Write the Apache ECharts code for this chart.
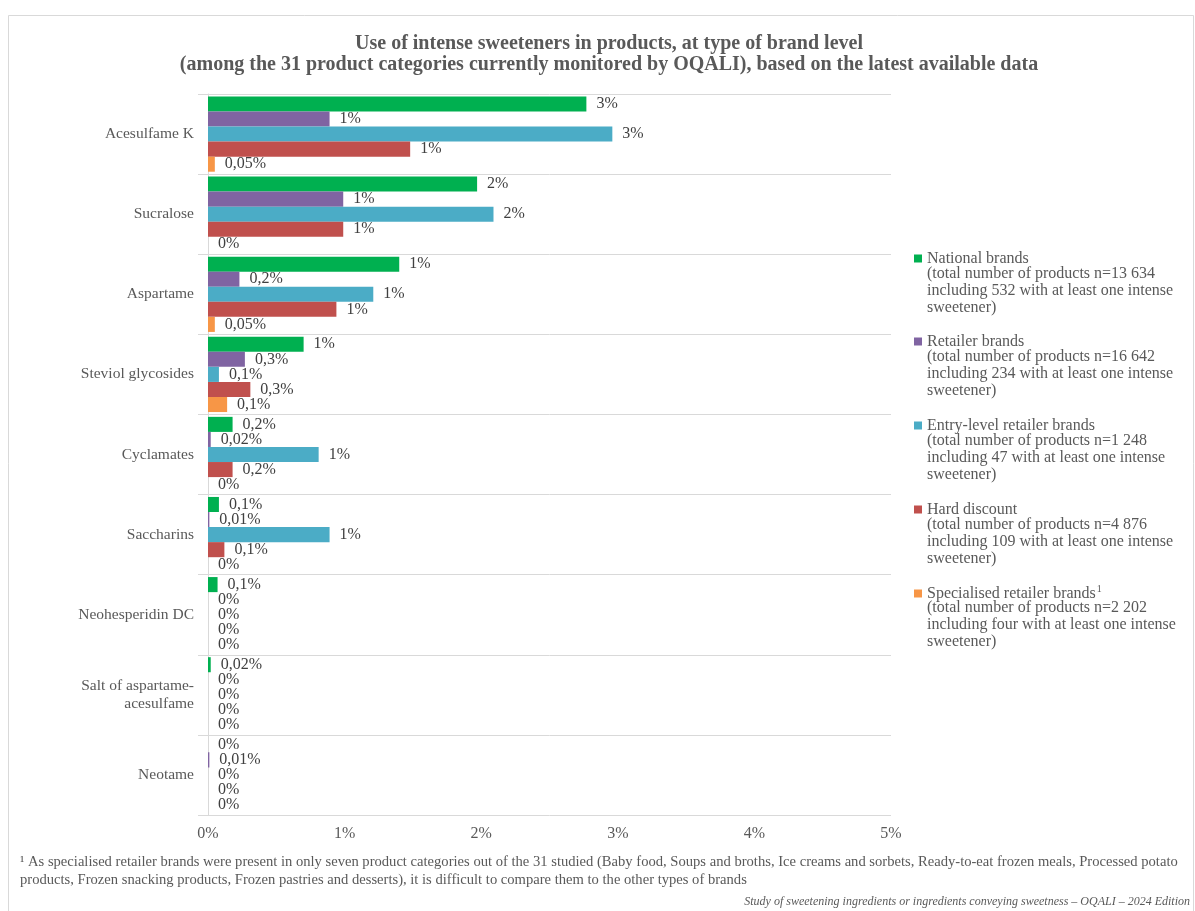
<!DOCTYPE html>
<html>
<head>
<meta charset="utf-8">
<script src="https://cdn.jsdelivr.net/npm/echarts@6/dist/echarts.min.js"></script>
<style>html,body{margin:0;padding:0;background:#fff}#c{width:1195px;height:911px}</style>
</head>
<body>
<div id="c"></div>
<script>
const categories = ['Acesulfame K','Sucralose','Aspartame','Steviol glycosides','Cyclamates','Saccharins','Neohesperidin DC','Salt of aspartame-\nacesulfame','Neotame'];
const seriesNames = ['National brands','Retailer brands','Entry-level retailer brands','Hard discount','Specialised retailer brands'];
const colors = ['#00B050','#8064A2','#4BACC6','#C0504D','#F79646'];
// values in %
const nationalValues   = [2.77, 1.97, 1.40, 0.70, 0.18, 0.08, 0.07, 0.02, 0];
const retailerValues   = [0.89, 0.99, 0.23, 0.27, 0.02, 0.01, 0, 0, 0.01];
const entryValues      = [2.96, 2.09, 1.21, 0.08, 0.81, 0.89, 0, 0, 0];
const hardValues       = [1.48, 0.99, 0.94, 0.31, 0.18, 0.12, 0, 0, 0];
const specialValues    = [0.05, 0, 0.05, 0.14, 0, 0, 0, 0, 0];
// displayed labels
const nationalLabels = ['3%','2%','1%','1%','0,2%','0,1%','0,1%','0,02%','0%'];
const retailerLabels = ['1%','1%','0,2%','0,3%','0,02%','0,01%','0%','0%','0,01%'];
const entryLabels    = ['3%','2%','1%','0,1%','1%','1%','0%','0%','0%'];
const hardLabels     = ['1%','1%','1%','0,3%','0,2%','0,1%','0%','0%','0%'];
const specialLabels  = ['0,05%','0%','0,05%','0,1%','0%','0%','0%','0%','0%'];
const xTicks = [0,1,2,3,4,5];
const legendNotes = [
  '(total number of products n=13 634\nincluding 532 with at least one intense\nsweetener)',
  '(total number of products n=16 642\nincluding 234 with at least one intense\nsweetener)',
  '(total number of products n=1 248\nincluding 47 with at least one intense\nsweetener)',
  '(total number of products n=4 876\nincluding 109 with at least one intense\nsweetener)',
  '(total number of products n=2 202\nincluding four with at least one intense\nsweetener)'
];
const footnote = '\u00B9 As specialised retailer brands were present in only seven product categories out of the 31 studied (Baby food, Soups and broths, Ice creams and sorbets, Ready-to-eat frozen meals, Processed potato\nproducts, Frozen snacking products, Frozen pastries and desserts), it is difficult to compare them to the other types of brands';
const source = 'Study of sweetening ingredients or ingredients conveying sweetness \u2013 OQALI \u2013 2024 Edition';

const allValues = [nationalValues, retailerValues, entryValues, hardValues, specialValues];
const allLabels = [nationalLabels, retailerLabels, entryLabels, hardLabels, specialLabels];
const FONT = '"Liberation Serif", "DejaVu Serif", serif';
const GRAY = '#595959';

const chart = echarts.init(document.getElementById('c'), null, {renderer:'canvas'});
const series = seriesNames.map((n,i)=>({
  name: n, type: 'bar',
  data: allValues[i],
  itemStyle: {color: colors[i]},
  barGap: '0%', barCategoryGap: '6%',
  label: {
    show: true, position: 'right', distance: 10,
    fontFamily: FONT, fontSize: 16, color: '#404040',
    formatter: p => allLabels[i][p.dataIndex]
  },
  emphasis: {disabled: true}
}));

const legendCenters = [257, 340, 424, 508, 591];
const graphics = [
  {type:'rect', shape:{x:8.5,y:15.5,width:1185,height:900}, style:{fill:'none', stroke:'#d9d9d9', lineWidth:1}, silent:true}
];
legendNotes.forEach((t,i)=>{
  graphics.push({type:'text', left:927, top: legendCenters[i] + 8,
    style:{text:t, fontFamily:FONT, fontSize:16, lineHeight:17, fill:GRAY}});
});
graphics.push({type:'text', left:20, top:853, style:{text:footnote, fontFamily:FONT, fontSize:14.6, lineHeight:18, fill:GRAY}});
graphics.push({type:'text', right:5, top:896, style:{text:source, fontFamily:FONT, fontSize:12, fontStyle:'italic', fill:GRAY}});

const legends = seriesNames.map((n,i)=>({
  orient:'vertical', left:914, top: legendCenters[i] - 6.5, padding:0, itemWidth:8, itemHeight:8,
  icon:'rect', selectedMode:false,
  data: [n],
  formatter: nm => nm === 'Specialised retailer brands' ? '{t|'+nm+'}{s|1}' : '{t|'+nm+'}',
  textStyle:{fontFamily:FONT, fontSize:16, color:GRAY,
    rich:{t:{fontFamily:FONT, fontSize:16, color:GRAY, height:17}, s:{fontFamily:FONT, fontSize:10, color:GRAY, verticalAlign:'top', padding:[0,0,8,1]}}}
}));

chart.setOption({
  backgroundColor:'#fff',
  animation:false,
  title:{
    text:'Use of intense sweeteners in products, at type of brand level\n(among the 31 product categories currently monitored by OQALI), based on the latest available data',
    left: 609, top: 33, textAlign:'center', padding:0,
    textStyle:{fontFamily:FONT, fontSize:20, fontWeight:'bold', color:GRAY, lineHeight:21}
  },
  legend: legends,
  grid:{left:208, right:304, top:94, bottom:96, containLabel:false},
  xAxis:{
    type:'value', min:0, max:5, interval:1,
    axisLine:{show:false}, axisTick:{show:false}, splitLine:{show:false},
    axisLabel:{formatter: v => xTicks.includes(v) ? v+'%' : '', fontFamily:FONT, fontSize:16, color:GRAY, margin:11}
  },
  yAxis:{
    type:'category', inverse:true, data: categories,
    axisLine:{show:true, lineStyle:{color:'#d9d9d9'}},
    axisTick:{show:true, length:10, lineStyle:{color:'#d9d9d9'}},
    splitLine:{show:true, lineStyle:{color:'#d9d9d9'}},
    axisLabel:{fontFamily:FONT, fontSize:15.5, color:GRAY, margin:14, lineHeight:18, align:'right'}
  },
  series: series,
  graphic: graphics
});
</script>
</body>
</html>
